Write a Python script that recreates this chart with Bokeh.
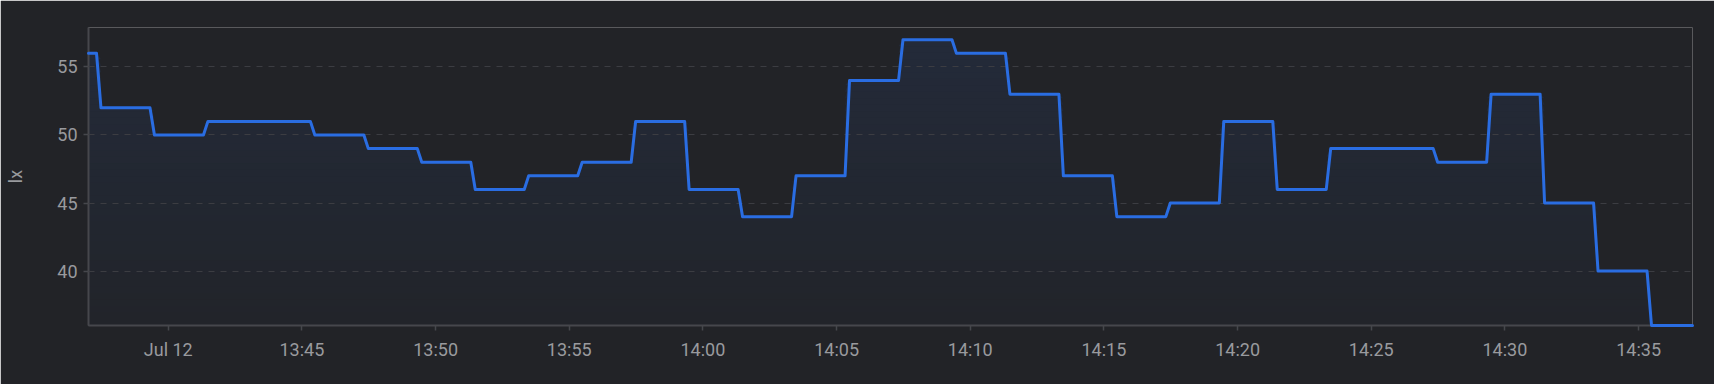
import numpy as np
import pandas as pd
from bokeh.plotting import figure
from bokeh.models import Range1d, FixedTicker, CustomJSTickFormatter
from bokeh.embed import file_html
from bokeh.resources import INLINE

# ---------------- data ----------------
day = "2024-07-12"
window_start = "13:37:01"
window_end = "14:37:01"
initial_value = 56
reading_times = [
    "13:37:24", "13:39:24", "13:41:24", "13:43:24", "13:45:24", "13:47:24",
    "13:49:24", "13:51:24", "13:53:24", "13:55:24", "13:57:24", "13:59:24",
    "14:01:24", "14:03:24", "14:05:24", "14:07:24", "14:09:24", "14:11:24",
    "14:13:24", "14:15:24", "14:17:24", "14:19:24", "14:21:24", "14:23:24",
    "14:25:24", "14:27:24", "14:29:24", "14:31:24", "14:33:24", "14:35:24",
]
reading_values = [
    52, 50, 51, 51, 50, 49,
    48, 46, 47, 48, 51, 46,
    44, 47, 54, 57, 56, 53,
    47, 44, 45, 51, 46, 49,
    49, 48, 53, 45, 40, 36,
]
unit = "lx"
y_ticks = [40, 45, 50, 55]
y_axis_min = 36
y_axis_max = 57.9
x_tick_times = ["13:40", "13:45", "13:50", "13:55", "14:00", "14:05",
                "14:10", "14:15", "14:20", "14:25", "14:30", "14:35"]
x_tick_labels = ["Jul 12", "13:45", "13:50", "13:55", "14:00", "14:05",
                 "14:10", "14:15", "14:20", "14:25", "14:30", "14:35"]

# ---------------- styling ----------------
BG_RGB = (34, 35, 39)
LINE_RGB = (42, 109, 226)
BG = "#%02x%02x%02x" % BG_RGB
LINE = "#%02x%02x%02x" % LINE_RGB
AXIS = "#46474c"
GRID = "#3c3d42"
TXT = "#999a9e"
FONT = "Roboto"
FSIZE = "18px"
ALPHA_BOTTOM = 0.015
ALPHA_TOP = 0.10


def ts(t):
    return pd.Timestamp(f"{day} {t}")


def blend(a):
    return "#%02x%02x%02x" % tuple(
        int(round(b + a * (l - b))) for b, l in zip(BG_RGB, LINE_RGB))


# step path (with short transitions like the original renderer)
half = pd.Timedelta(seconds=5)
xs = [ts(window_start)]
ys = [initial_value]
prev = initial_value
for t, v in zip(reading_times, reading_values):
    tt = ts(t)
    if v != prev:
        xs += [tt - half, tt + half]
        ys += [prev, v]
    prev = v
xs.append(ts(window_end))
ys.append(prev)
y_arr = np.array(ys, dtype=float)

p = figure(
    width=1714, height=384,
    x_axis_type="datetime",
    output_backend="svg", toolbar_location=None,
    x_range=Range1d(ts(window_start), ts(window_end)),
    y_range=Range1d(y_axis_min, y_axis_max),
    min_border_left=88, min_border_right=22, min_border_top=27, min_border_bottom=59,
    background_fill_color=BG, border_fill_color=BG,
)
p.outline_line_color = None

# vertical gradient fill under the line: opaque bands, each covering
# from its level up to the line
top = max(reading_values + [initial_value])
n_bands = 44
levels = np.linspace(y_axis_min, top, n_bands + 1)[:-1]
for L in levels:
    frac = (L - y_axis_min) / (top - y_axis_min)
    col = blend(ALPHA_BOTTOM + (ALPHA_TOP - ALPHA_BOTTOM) * frac)
    p.varea(x=xs, y1=L, y2=np.maximum(y_arr, L), fill_color=col, fill_alpha=1.0)

r = p.line(xs, ys, line_color=LINE, line_width=3, line_join="round", line_cap="round")
r.level = "overlay"

# grid (drawn above the fill, below the line)
p.xgrid.visible = False
p.ygrid.ticker = FixedTicker(ticks=y_ticks)
p.ygrid.grid_line_color = GRID
p.ygrid.grid_line_dash = "6 6"
p.ygrid.grid_line_width = 1
p.ygrid.level = "guide"

# axes
tick_ms = [ts(t).value / 1e6 for t in x_tick_times]
p.xaxis.ticker = FixedTicker(ticks=tick_ms)
p.xaxis.formatter = CustomJSTickFormatter(
    args=dict(ticks_ms=tick_ms, labels=x_tick_labels),
    code="""
    for (let i = 0; i < ticks_ms.length; i++) {
        if (Math.abs(ticks_ms[i] - tick) < 1000) return labels[i];
    }
    return "";
    """,
)
p.yaxis.ticker = FixedTicker(ticks=y_ticks)
p.yaxis.axis_label = unit

for ax in (p.xaxis[0], p.yaxis[0]):
    ax.axis_line_color = AXIS
    ax.axis_line_width = 2
    ax.major_tick_line_color = AXIS
    ax.major_tick_line_width = 1.5
    ax.major_tick_out = 5
    ax.major_tick_in = 0
    ax.minor_tick_line_color = None
    ax.major_label_text_color = TXT
    ax.major_label_text_font = FONT
    ax.major_label_text_font_size = FSIZE
    ax.axis_label_text_color = TXT
    ax.axis_label_text_font = FONT
    ax.axis_label_text_font_size = FSIZE
    ax.axis_label_text_font_style = "normal"

p.xaxis.major_label_standoff = 8
p.yaxis.major_label_standoff = 6
p.yaxis.axis_label_standoff = 28

open("out.html", "w").write(file_html(p, INLINE))
